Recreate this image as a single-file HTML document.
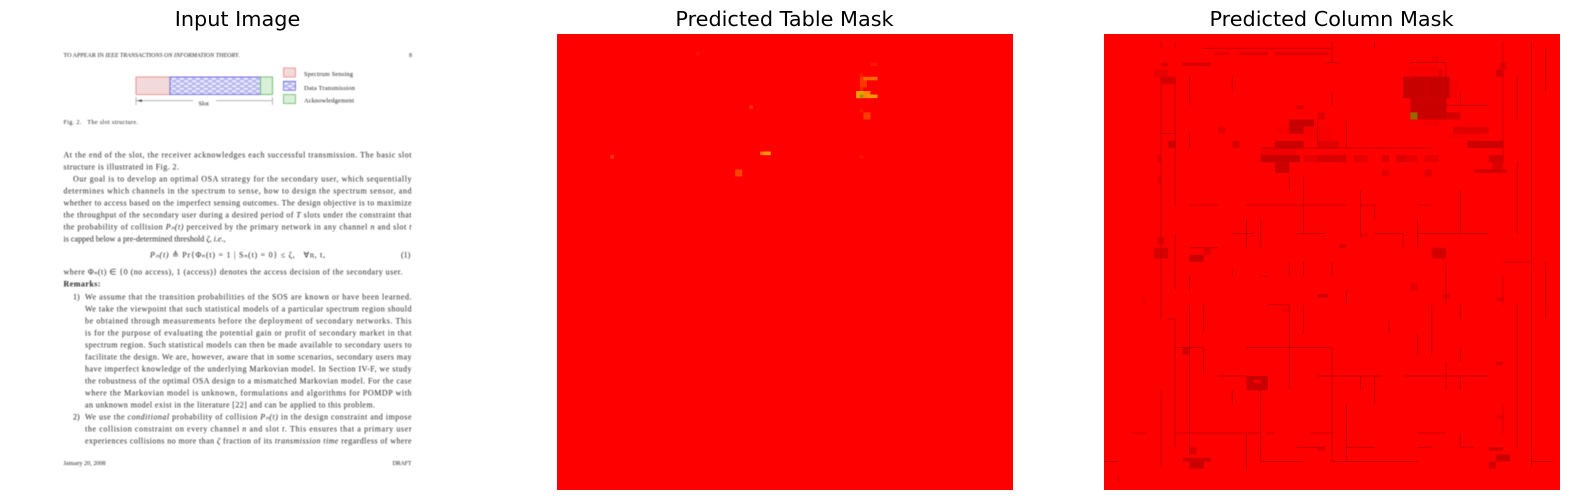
<!DOCTYPE html>
<html>
<head>
<meta charset="utf-8">
<title>Table and column mask predictions</title>
<style>
html,body{margin:0;padding:0;background:#fff;}
#fig{display:block;width:1570px;height:500px;}
.title{font-family:"DejaVu Sans",sans-serif;font-size:20.8px;fill:#000;text-anchor:middle;}
.doc text{font-family:"Liberation Serif",serif;font-size:8px;fill:#222;}
.doc{filter:blur(0.45px);}
.doc .sm{font-size:6px;}
.doc .leg{font-size:6.4px;}
</style>
</head>
<body>
<svg id="fig" xmlns="http://www.w3.org/2000/svg" width="1570" height="500" viewBox="0 0 1570 500">
<defs>
<pattern id="pRed" width="2" height="2" patternUnits="userSpaceOnUse"><rect width="2" height="2" fill="#f6e4e4"/><rect width="1" height="1" fill="#e6bcbc"/></pattern>
<pattern id="pBlue" width="8" height="5" patternUnits="userSpaceOnUse"><rect width="8" height="5" fill="#b8b8f0"/><ellipse cx="2" cy="1.2" rx="2.6" ry="0.9" fill="#f4f4ff"/><ellipse cx="6" cy="3.7" rx="2.6" ry="0.9" fill="#f4f4ff"/></pattern>
<pattern id="pGreen" width="6" height="4" patternUnits="userSpaceOnUse"><rect width="6" height="4" fill="#eef8ee"/><path d="M0 1 Q1.5 0 3 1 T6 1 M0 3 Q1.5 2 3 3 T6 3" fill="none" stroke="#b4e0b4" stroke-width="0.7"/></pattern>
</defs>

<text class="title" x="237.5" y="26">Input Image</text>
<text class="title" x="784.5" y="26">Predicted Table Mask</text>
<text class="title" x="1331.5" y="26">Predicted Column Mask</text>

<g class="doc">
  <text class="sm" x="63.5" y="57" textLength="176.5">TO APPEAR IN <tspan font-style="italic">IEEE TRANSACTIONS ON INFORMATION THEORY</tspan>.</text>
  <text class="sm" x="409" y="57">8</text>

  <g>
    <rect x="136" y="77" width="34" height="17.5" fill="url(#pRed)" stroke="#ee8888" stroke-width="0.9"/>
    <rect x="170" y="77" width="90.5" height="17.5" fill="url(#pBlue)" stroke="#6666dd" stroke-width="0.9"/>
    <rect x="260.5" y="77" width="12" height="17.5" fill="url(#pGreen)" stroke="#66bb66" stroke-width="0.9"/>
    <path d="M136 97V105M272.5 97V105M136 100.7H193M216 100.7H272.5" fill="none" stroke="#aaa" stroke-width="0.8"/>
    <path d="M137 100.7l5 -1.2v2.4z" fill="#333"/>
    <text class="leg" x="198.5" y="105.5">Slot</text>
    <rect x="283.5" y="68" width="12" height="9" fill="url(#pRed)" stroke="#ee8888" stroke-width="0.8"/>
    <rect x="283.5" y="81.3" width="12" height="9" fill="url(#pBlue)" stroke="#6666dd" stroke-width="0.8"/>
    <rect x="283.5" y="94.5" width="12" height="9" fill="url(#pGreen)" stroke="#66bb66" stroke-width="0.8"/>
    <text class="leg" x="304" y="76" textLength="49">Spectrum Sensing</text>
    <text class="leg" x="304" y="90" textLength="51">Data Transmission</text>
    <text class="leg" x="304" y="102.5" textLength="50">Acknowledgement</text>
  </g>
  <text class="sm" x="63.5" y="124" textLength="74.5">Fig. 2.&#160;&#160;&#160;The slot structure.</text>

  <g>
    <text x="63.5" y="157.5" textLength="348">At the end of the slot, the receiver acknowledges each successful transmission. The basic slot</text>
    <text x="63.5" y="169.5" textLength="115.5">structure is illustrated in Fig. 2.</text>
    <text x="73" y="181.5" textLength="338.5">Our goal is to develop an optimal OSA strategy for the secondary user, which sequentially</text>
    <text x="63.5" y="193.5" textLength="348">determines which channels in the spectrum to sense, how to design the spectrum sensor, and</text>
    <text x="63.5" y="205.5" textLength="348">whether to access based on the imperfect sensing outcomes. The design objective is to maximize</text>
    <text x="63.5" y="217.5" textLength="348">the throughput of the secondary user during a desired period of <tspan font-style="italic">T</tspan> slots under the constraint that</text>
    <text x="63.5" y="229.5" textLength="348">the probability of collision <tspan font-style="italic">Pₙ(t)</tspan> perceived by the primary network in any channel <tspan font-style="italic">n</tspan> and slot <tspan font-style="italic">t</tspan></text>
    <text x="63.5" y="241.5" textLength="162">is capped below a pre-determined threshold <tspan font-style="italic">ζ</tspan>, <tspan font-style="italic">i.e.</tspan>,</text>
    <text x="150" y="257.5" textLength="175"><tspan font-style="italic">Pₙ(t)</tspan> ≜ Pr{Φₙ(t) = 1 | Sₙ(t) = 0} ≤ ζ,&#160;&#160;&#160;∀n, t,</text>
    <text x="401" y="257.5">(1)</text>
    <text x="63.5" y="274.5" textLength="339">where Φₙ(t) ∈ {0 (no access), 1 (access)} denotes the access decision of the secondary user.</text>
    <text x="63.5" y="286.5" font-weight="bold" textLength="37">Remarks:</text>
    <text x="73" y="299.5">1)</text>
    <text x="85" y="299.5" textLength="326.5">We assume that the transition probabilities of the SOS are known or have been learned.</text>
    <text x="85" y="311.5" textLength="326.5">We take the viewpoint that such statistical models of a particular spectrum region should</text>
    <text x="85" y="323.5" textLength="326.5">be obtained through measurements before the deployment of secondary networks. This</text>
    <text x="85" y="335.5" textLength="326.5">is for the purpose of evaluating the potential gain or profit of secondary market in that</text>
    <text x="85" y="347.5" textLength="326.5">spectrum region. Such statistical models can then be made available to secondary users to</text>
    <text x="85" y="359.5" textLength="326.5">facilitate the design. We are, however, aware that in some scenarios, secondary users may</text>
    <text x="85" y="371.5" textLength="326.5">have imperfect knowledge of the underlying Markovian model. In Section IV-F, we study</text>
    <text x="85" y="383.5" textLength="326.5">the robustness of the optimal OSA design to a mismatched Markovian model. For the case</text>
    <text x="85" y="395.5" textLength="326.5">where the Markovian model is unknown, formulations and algorithms for POMDP with</text>
    <text x="85" y="407.5" textLength="290">an unknown model exist in the literature [22] and can be applied to this problem.</text>
    <text x="73" y="419.5">2)</text>
    <text x="85" y="419.5" textLength="326.5">We use the <tspan font-style="italic">conditional</tspan> probability of collision <tspan font-style="italic">Pₙ(t)</tspan> in the design constraint and impose</text>
    <text x="85" y="431.5" textLength="326.5">the collision constraint on every channel <tspan font-style="italic">n</tspan> and slot <tspan font-style="italic">t</tspan>. This ensures that a primary user</text>
    <text x="85" y="443.5" textLength="326.5">experiences collisions no more than <tspan font-style="italic">ζ</tspan> fraction of its <tspan font-style="italic">transmission time</tspan> regardless of where</text>
  </g>
  <text class="sm" x="63.5" y="465" textLength="42">January 20, 2008</text>
  <text class="sm" x="392.5" y="465" textLength="19">DRAFT</text>
</g>

<g id="tablePanel"></g>
<g id="columnPanel"></g>
</svg>

<script>
// Heatmap grid: 128 x 128 cells. Blocks: [col, row, colSpan, rowSpan, score]
// score 0 = background red, negative = darker red, positive = orange -> yellow -> olive.
const gridSize = 128;
const gridLineStep = 4;

const tableScores = [
  [39,5,1,1,0.06],[88,8,2,1,0.08],[85,11,1,1,0.08],[85,12,2,3,0.2],[86,12,4,1,0.38],
  [85,15,1,1,0.12],[84,16,4,2,0.5],[84,16,2,2,0.68],[85,17,1,1,0.85],[87,17,3,1,0.55],
  [85,21,1,1,0.06],[86,22,2,2,0.22],[54,20,1,1,0.18],[57,33,3,1,0.42],[58,33,2,1,0.55],
  [15,34,1,1,0.2],[85,34,1,1,0.08],[50,38,2,2,0.25]
];

const columnScores = [
  [85,9,9,3,-0.12],[94,10,1,2,-0.5],[90,9,4,3,-0.1],[97,13,2,5,-0.15],[90,24,4,2,-0.15],
  [56,26,8,4,-0.12],[48,26,4,2,-0.12],[44,32,10,2,-0.22],[96,28,10,1,-0.15],[58,28,4,2,-0.1],
  [84,12,13,6,-0.9],[86,18,10,6,-0.85],[86,22,2,2,1],[85,12,1,1,-0.7],[90,13,1,5,-0.75],
  [16,8,2,1,-0.6],[22,8,8,1,-0.6],[14,10,4,2,-0.35],[16,12,4,2,-0.7],
  [110,10,2,2,-0.7],[111,8,2,2,-0.35],[52,24,7,2,-0.9],[52,26,4,2,-0.9],[48,30,8,2,-0.8],
  [44,34,11,2,-0.9],[48,36,4,3,-0.8],[96,22,4,2,-0.7],[98,26,10,2,-0.5],
  [102,30,10,2,-0.8],[108,34,4,2,-0.7],[104,38,9,1,-0.7],[109,36,3,2,-0.6],
  [56,34,4,2,-0.4],[60,34,8,2,-0.65],[70,34,4,2,-0.4],[78,34,2,2,-0.5],[82,34,3,2,-0.55],[85,34,3,2,-0.35],
  [90,34,4,2,-0.35],[60,30,6,2,-0.45],[18,30,2,2,-0.8],[36,30,2,2,-0.6],
  [32,26,2,2,-0.4],[54,20,2,1,-0.6],[60,22,2,2,-0.5],[78,38,2,2,-0.4],
  [90,38,2,2,-0.45],[15,34,1,2,-0.5],[15,40,1,2,-0.45],[15,57,2,2,-0.5],
  [14,60,4,3,-0.65],[24,62,4,2,-0.85],[28,60,2,2,-0.5],[92,60,4,3,-0.7],
  [66,59,2,1,-0.7],[72,56,2,1,-0.35],[92,6,2,2,-0.25],[31,5,4,1,-0.35],
  [38,5,8,1,-0.45],[48,5,15,1,-0.45],[60,73,3,1,-0.7],[86,70,2,2,-0.4],
  [95,73,2,1,-0.45],[110,74,2,1,-0.45],[11,74,1,2,-0.2],[50,77,2,1,-0.3],
  [22,88,2,2,-0.7],[40,96,6,4,-0.85],[42,97,2,1,-0.1],[110,92,2,1,-0.55],
  [110,107,2,1,-0.35],[24,116,2,2,-0.6],[22,119,8,1,-0.75],[24,120,4,2,-0.85],
  [108,116,4,1,-0.7],[110,118,4,2,-0.8],[108,120,2,2,-0.7],[60,116,2,1,-0.55]
];

// Thin patch-boundary lines, in units of the 32-cell coarse grid.
// Vertical: [gridCol, fromRow, toRow]
const columnVerticalSeams = [
  [4,0.5,1],[4,3,16],[4,16,20],[4,25,30.4],[5,0.5,1],[5,3,12],[5,14,18],[5,20,29],
  [6,3,5],[6,7,8],[6,17,18],[6,19,29.6],[7,19,21],[7,22,24],[9,3,4],[9,16.5,17],[9,25,26],
  [10,13,15],[10,28,30.6],[11,13,15],[11,25,30],[13,10,11],[13,16,17],[13,19,25],
  [14,10,14],[14,16,17],[14,19,21],[15,6,8],[16,0.5,2],[16,4,5],[16,16,17],[16,22,30],
  [17,6,8],[17,18,19],[17,26,30],[18,11,14.3],[18,24,25],[19,0.5,1],[19,12,13],[19,24,26],
  [20,20,21],[21,14,15],[22,13,15],[22,21,22.6],[23,19,22.6],[24,2,6],[24,16,19],[24,23,25],
  [25,4,5],[25,11,14],[25,19,20],[25,22,23],[25,24,25],[25,28,29],[28,0.5,9],[28,17,19],[28,26,28],
  [29,3,6],[29,9,14],[29,19,29],[30,0.5,30.4],[31,1,4],[31,16,20],[1,31,31.5]
];
// Horizontal: [gridRow, fromCol, toCol]
const columnHorizontalSeams = [
  [1,7,16],[2,15.5,16.5],[2,21.5,24],[5,24,27],[7,4,5],[8,11,23],
  [12,6,8],[12,10,14],[12,14,17],[12,18,19],[12,22,23],
  [14,9,10.5],[14,13.5,15.5],[14,19,21],[14,22,27],[15,6,8],[16,28,30],
  [17,11,11.5],[19,11.5,13],[20,4.5,5],[22,5,7],[22,10,16],
  [24,8,10],[24,15,19.5],[24,21,27],[28,2,3],[28,5,11],[28,11.3,12],[28,14.5,16],[28,22,24],
  [29,13.5,15.5],[29,17,19],[29,22,23],[29,25,26],[30,0,1],[30,11,14],[30,16,22],[30,30,31.5]
];

const panelSize = 456;
const tableLeft = 557;
const columnLeft = 1104;
const panelTop = 34;

function xScale(left, col) { return left + col * panelSize / gridSize; }
function yScale(row) { return panelTop + row * panelSize / gridSize; }
function lengthScale(n) { return n * panelSize / gridSize; }

function scoreColor(v) {
  if (v <= 0) {
    return 'rgb(' + Math.round(255 + v * 62) + ',0,0)';
  }
  const stops = [[0,255,0,0],[0.3,255,80,0],[0.55,255,150,0],[0.7,225,165,0],[0.85,170,140,10],[1,150,105,0]];
  for (let i = 1; i < stops.length; i++) {
    if (v <= stops[i][0]) {
      const a = stops[i-1], b = stops[i], t = (v - a[0]) / (b[0] - a[0]);
      return 'rgb(' + Math.round(a[1] + (b[1]-a[1])*t) + ',' + Math.round(a[2] + (b[2]-a[2])*t) + ',' + Math.round(a[3] + (b[3]-a[3])*t) + ')';
    }
  }
  return 'rgb(150,105,0)';
}

const svgNS = 'http://www.w3.org/2000/svg';

function addRect(parent, x, y, w, h, fill) {
  const r = document.createElementNS(svgNS, 'rect');
  r.setAttribute('x', x);
  r.setAttribute('y', y);
  r.setAttribute('width', w);
  r.setAttribute('height', h);
  r.setAttribute('fill', fill);
  parent.appendChild(r);
  return r;
}

function drawBackground(parent, left) {
  const r = addRect(parent, left, panelTop, panelSize, panelSize, scoreColor(0));
  
  
}

function drawScores(parent, left, scores) {
  scores.forEach(function (s) {
    const r = addRect(parent, xScale(left, s[0]), yScale(s[1]), lengthScale(s[2]), lengthScale(s[3]), scoreColor(s[4]));
    
    
  });
}

function drawSeams(parent, left) {
  const seamColor = scoreColor(-1.1);
  columnVerticalSeams.forEach(function (s) {
    const r = addRect(parent, xScale(left, s[0] * gridLineStep) - 0.4, yScale(s[1] * gridLineStep), 0.8, lengthScale((s[2] - s[1]) * gridLineStep), seamColor);
    
    
  });
  columnHorizontalSeams.forEach(function (s) {
    const r = addRect(parent, xScale(left, s[1] * gridLineStep), yScale(s[0] * gridLineStep) - 0.4, lengthScale((s[2] - s[1]) * gridLineStep), 0.8, seamColor);
    
    
  });
}

const tablePanel = document.getElementById('tablePanel');
const columnPanel = document.getElementById('columnPanel');
drawBackground(tablePanel, tableLeft);
drawScores(tablePanel, tableLeft, tableScores);
drawBackground(columnPanel, columnLeft);
drawScores(columnPanel, columnLeft, columnScores);
drawSeams(columnPanel, columnLeft);
</script>
</body>
</html>
